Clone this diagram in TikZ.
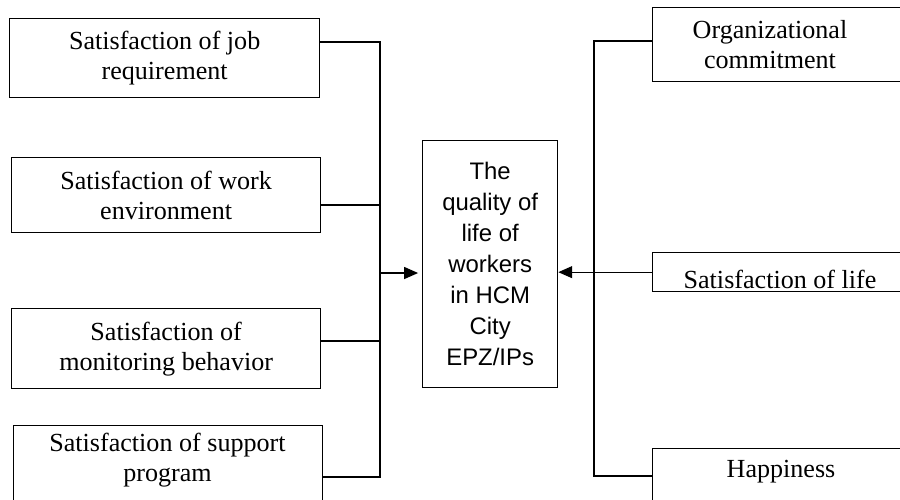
\documentclass[tikz,border=0pt]{standalone}
\usepackage{fontspec}
\setmainfont{Liberation Serif}
\newfontfamily\arialfont{Liberation Sans}
\usetikzlibrary{arrows.meta, positioning}

\begin{document}
\begin{tikzpicture}[
  x=0.46pt, y=-0.46pt,
  box/.style={rectangle, draw=black, line width=0.6pt, inner sep=0pt, anchor=north west,
              font=\fontsize{12}{13.8}\selectfont, align=center},
  wh/.style 2 args={minimum width=#1*0.46pt, minimum height=#2*0.46pt},
  lbl/.style={inner sep=0pt, font=\fontsize{12}{13.8}\selectfont, align=center},
  conn/.style={line width=0.6pt},
  arr/.style={-{Triangle[length=6.4pt, width=5.5pt]}, line width=0.6pt},
]
  \useasboundingbox (0,0) rectangle (900,499);
  \clip (0,0) rectangle (900,499);

  % left column
  \node[box, wh={310}{79}] (job) at (9,18) {Satisfaction of job\\requirement};
  \node[box, wh={309}{75}] (work) at (11,157) {Satisfaction of work\\environment};
  \node[box, wh={309}{80}] (monitor) at (11,308) {Satisfaction of\\monitoring behavior};
  \node[box, wh={309}{100}] (support) at (13,425) {};
  \node[lbl] (support-t) at (167.5,460) {Satisfaction of support\\program};

  % centre
  \node[box, wh={135}{247}, font=\arialfont\fontsize{11}{14.3}\selectfont] (qwl) at (422,140)
    {The\\quality of\\life of\\workers\\in HCM\\City\\EPZ/IPs};

  % right column
  \node[box, wh={300}{74}] (org) at (652,7) {};
  \node[lbl] (org-t) at (770,45) {Organizational\\commitment};
  \node[box, wh={300}{39}] (life) at (652,252) {};
  \begin{scope}
    \clip (life.north west) rectangle (life.south east);
    \node[lbl, anchor=base] (life-t) at (780,288) {Satisfaction of life};
  \end{scope}
  \node[box, wh={300}{100}] (happy) at (652,448) {};
  \node[lbl] (happy-t) at (781,472) {Happiness};

  % buses
  \coordinate (lbus-top) at (380,42);
  \coordinate (lbus-bot) at (380,477);
  \coordinate (lhub) at (380,273);
  \coordinate (rbus-top) at (594,41);
  \coordinate (rbus-bot) at (594,476);

  \draw[conn] (job.east |- lbus-top) -- (lbus-top) -- (lbus-bot) -- (support.east |- lbus-bot);
  \draw[conn] (work.east |- 0,205) -- (lbus-top |- 0,205);
  \draw[conn] (monitor.east |- 0,341) -- (lbus-top |- 0,341);
  \draw[arr, shorten >=1.8pt] (lhub) -- (lhub -| qwl.west);

  \draw[conn] (org.west |- rbus-top) -- (rbus-top) -- (rbus-bot) -- (happy.west |- rbus-bot);
  \draw[arr] (life.west) -- (life.west -| qwl.east);
\end{tikzpicture}
\end{document}
